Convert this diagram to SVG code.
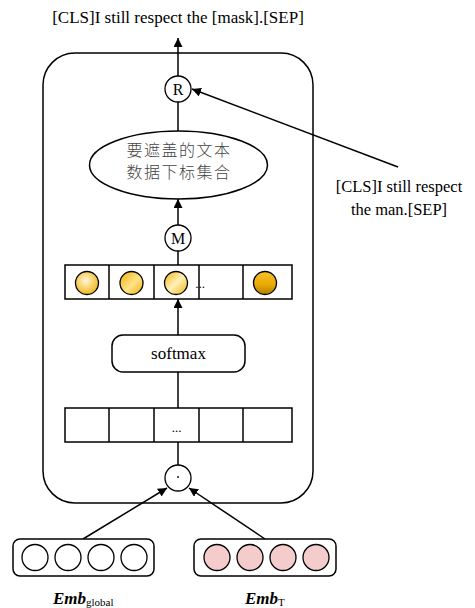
<svg xmlns="http://www.w3.org/2000/svg" width="475" height="608" viewBox="0 0 475 608">
  <defs>
    <marker id="arrow" viewBox="0 0 10 10" refX="10" refY="5" markerWidth="9" markerHeight="9" markerUnits="userSpaceOnUse" orient="auto">
      <path d="M0,0 L10,5 L0,10 Z" fill="#000"/>
    </marker>
    <radialGradient id="goldSoft" cx="0.45" cy="0.4" r="0.6">
      <stop offset="0" stop-color="#fff6d8"/>
      <stop offset="1" stop-color="#f2b81c"/>
    </radialGradient>
    <linearGradient id="goldDiag" x1="0" y1="0" x2="1" y2="1">
      <stop offset="0" stop-color="#eeb000"/>
      <stop offset="0.55" stop-color="#ffe38a"/>
      <stop offset="1" stop-color="#eeb000"/>
    </linearGradient>
    <linearGradient id="goldDiag2" x1="0" y1="0" x2="1" y2="1">
      <stop offset="0" stop-color="#f0b410"/>
      <stop offset="0.5" stop-color="#fff0b8"/>
      <stop offset="1" stop-color="#f0b410"/>
    </linearGradient>
    <linearGradient id="goldDeep" x1="0" y1="0" x2="0" y2="1">
      <stop offset="0" stop-color="#f7c22a"/>
      <stop offset="0.6" stop-color="#e8a800"/>
      <stop offset="1" stop-color="#b07c00"/>
    </linearGradient>
  </defs>
  <style>
    .ln { stroke: #000; stroke-width: 1.5; fill: none; }
    .box { stroke: #000; stroke-width: 1.5; fill: #fff; }
    .cell { stroke: #000; stroke-width: 1.5; fill: none; }
    .op { stroke: #000; stroke-width: 1.3; fill: #fff; }
    .tx { font-family: "Liberation Serif", "Times New Roman", serif; fill: #000; }
    .cjk { font-family: "Noto Sans CJK SC", "Noto Sans", sans-serif; font-weight: 300; fill: #444; letter-spacing: 1.5px; }
    .emb { font-family: "Liberation Serif", "Times New Roman", serif; font-weight: bold; font-style: italic; fill: #000; }
    .sub { font-family: "Liberation Serif", "Times New Roman", serif; font-weight: normal; font-style: normal; }
    .tok { stroke: #000; stroke-width: 1.3; }
  </style>

  <rect width="475" height="608" fill="#fff"/>

  <!-- output sentence -->
  <g id="output-text">
    <text class="tx" x="178" y="23" font-size="17" text-anchor="middle">[CLS]I still respect the [mask].[SEP]</text>
  </g>

  <!-- module container -->
  <g id="container">
    <rect x="43" y="53" width="270" height="450" rx="32" ry="32" class="ln"/>
  </g>

  <!-- connectors -->
  <g id="connectors">
    <line x1="178" y1="76" x2="178" y2="38" class="ln" marker-end="url(#arrow)"/>
    <line x1="398" y1="167" x2="192" y2="89" class="ln" marker-end="url(#arrow)"/>
    <line x1="178" y1="131" x2="178" y2="102" class="ln"/>
    <line x1="178" y1="225" x2="178" y2="199" class="ln" marker-end="url(#arrow)"/>
    <line x1="178" y1="251" x2="178" y2="265" class="ln"/>
    <line x1="178" y1="335" x2="178" y2="299" class="ln" marker-end="url(#arrow)"/>
    <line x1="178" y1="372" x2="178" y2="408" class="ln"/>
    <line x1="178" y1="442" x2="178" y2="465" class="ln"/>
    <line x1="83" y1="539" x2="167" y2="488" class="ln" marker-end="url(#arrow)"/>
    <line x1="265" y1="539" x2="189" y2="488" class="ln" marker-end="url(#arrow)"/>
  </g>

  <!-- replace operator -->
  <g id="node-R">
    <circle cx="178" cy="89" r="13" class="op"/>
    <text class="tx" x="178" y="95" font-size="16" text-anchor="middle">R</text>
  </g>

  <!-- replacement sentence -->
  <g id="node-input-text">
    <text class="tx" x="399" y="192" font-size="16.5" text-anchor="middle">[CLS]I still respect</text>
    <text class="tx" x="399" y="215" font-size="16.5" text-anchor="middle">the man.[SEP]</text>
  </g>

  <!-- mask index set -->
  <g id="node-mask-set">
    <ellipse cx="178.5" cy="165" rx="89" ry="34" class="box"/>
    <text class="cjk" x="179" y="156" font-size="16" text-anchor="middle">要遮盖的文本</text>
    <text class="cjk" x="179" y="178" font-size="16" text-anchor="middle">数据下标集合</text>
  </g>

  <!-- selection operator -->
  <g id="node-M">
    <circle cx="178" cy="238" r="13" class="op"/>
    <text class="tx" x="178" y="244" font-size="16" text-anchor="middle">M</text>
  </g>

  <!-- attention weights -->
  <g id="node-weights">
    <rect x="65" y="265" width="227" height="34" class="cell"/>
    <line x1="109" y1="265" x2="109" y2="299" class="cell"/>
    <line x1="154" y1="265" x2="154" y2="299" class="cell"/>
    <line x1="199" y1="265" x2="199" y2="299" class="cell"/>
    <line x1="243" y1="265" x2="243" y2="299" class="cell"/>
    <circle cx="87" cy="283" r="11.5" fill="url(#goldSoft)" class="tok"/>
    <circle cx="131.5" cy="283" r="11.5" fill="url(#goldDiag)" class="tok"/>
    <circle cx="176" cy="283" r="11.5" fill="url(#goldDiag2)" class="tok"/>
    <text class="tx" x="200" y="288" font-size="13" text-anchor="middle">...</text>
    <circle cx="265" cy="283" r="11.5" fill="url(#goldDeep)" class="tok"/>
  </g>

  <!-- softmax -->
  <g id="node-softmax">
    <rect x="112" y="335" width="133" height="37" rx="11" ry="11" class="box"/>
    <text class="tx" x="178.5" y="359" font-size="17" text-anchor="middle">softmax</text>
  </g>

  <!-- scores -->
  <g id="node-scores">
    <rect x="65" y="408" width="227" height="34" class="cell"/>
    <line x1="109" y1="408" x2="109" y2="442" class="cell"/>
    <line x1="154" y1="408" x2="154" y2="442" class="cell"/>
    <line x1="199" y1="408" x2="199" y2="442" class="cell"/>
    <line x1="243" y1="408" x2="243" y2="442" class="cell"/>
    <text class="tx" x="176.5" y="432" font-size="13" text-anchor="middle">...</text>
  </g>

  <!-- dot product -->
  <g id="node-dot">
    <circle cx="178" cy="478" r="13" class="op"/>
    <circle cx="178" cy="477" r="0.9" fill="#000"/>
  </g>

  <!-- global embedding -->
  <g id="node-emb-global">
    <rect x="13" y="539" width="141" height="37" rx="7" ry="7" class="box"/>
    <circle cx="35" cy="557.5" r="13" fill="#fff" class="tok"/>
    <circle cx="68" cy="557.5" r="13" fill="#fff" class="tok"/>
    <circle cx="101" cy="557.5" r="13" fill="#fff" class="tok"/>
    <circle cx="134" cy="557.5" r="13" fill="#fff" class="tok"/>
    <text class="emb" x="53" y="604" font-size="17">Emb<tspan class="sub" font-size="11" dy="1.5">global</tspan></text>
  </g>

  <!-- text embedding -->
  <g id="node-emb-t">
    <rect x="194" y="539" width="142" height="37" rx="7" ry="7" class="box"/>
    <circle cx="217" cy="557.5" r="13" fill="#f5cccc" class="tok"/>
    <circle cx="250" cy="557.5" r="13" fill="#f5cccc" class="tok"/>
    <circle cx="283" cy="557.5" r="13" fill="#f5cccc" class="tok"/>
    <circle cx="316" cy="557.5" r="13" fill="#f5cccc" class="tok"/>
    <text class="emb" x="245" y="604" font-size="17">Emb<tspan class="sub" font-size="11" dy="1.5">T</tspan></text>
  </g>
</svg>
